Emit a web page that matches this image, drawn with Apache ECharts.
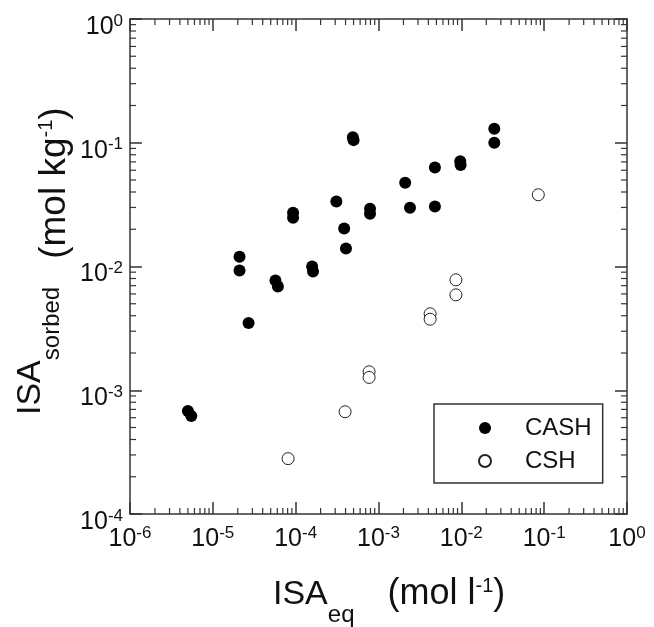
<!DOCTYPE html>
<html>
<head>
<meta charset="utf-8">
<script src="https://cdn.jsdelivr.net/npm/echarts@6/dist/echarts.min.js"></script>
<style>
html,body{margin:0;padding:0;background:#ffffff;}
#c{width:654px;height:627px;}
</style>
</head>
<body>
<div id="c"></div>
<script>
// ---- data ----
const seriesNames = ['CASH', 'CSH'];
const cashX = [5.0e-6, 5.5e-6, 2.1e-5, 2.1e-5, 2.7e-5, 5.7e-5, 6.1e-5, 9.3e-5, 9.3e-5, 1.58e-4, 1.62e-4,
               3.1e-4, 3.85e-4, 4.05e-4, 4.9e-4, 5.0e-4, 7.9e-4, 7.9e-4, 2.1e-3, 2.4e-3, 4.8e-3, 4.8e-3,
               9.7e-3, 9.8e-3, 2.5e-2, 2.5e-2];
const cashY = [6.8e-4, 6.2e-4, 0.0120, 0.0093, 0.0035, 0.0077, 0.0069, 0.0272, 0.0248, 0.0100, 0.0091,
               0.0335, 0.0203, 0.0140, 0.111, 0.105, 0.0293, 0.0267, 0.0475, 0.0298, 0.063, 0.0305,
               0.071, 0.066, 0.130, 0.100];
const cshX = [8.1e-5, 3.95e-4, 7.7e-4, 7.7e-4, 4.2e-3, 4.2e-3, 8.6e-3, 8.6e-3, 8.5e-2];
const cshY = [2.8e-4, 6.7e-4, 1.41e-3, 1.27e-3, 4.15e-3, 3.75e-3, 7.8e-3, 5.9e-3, 0.038];

// tick labels (exponents of 10)
const xTickExp = ['-6', '-5', '-4', '-3', '-2', '-1', '0'];
const yTickExp = ['-4', '-3', '-2', '-1', '0'];
const minorMult = [2, 3, 4, 5, 6, 7, 8, 9];

// ---- styling ----
const FONT = '"Liberation Sans", Arial, Helvetica, sans-serif';
const INK = '#111';
const FRAME = '#333';
const X_MIN = 1e-6, X_MAX = 1, Y_MIN = 1e-4, Y_MAX = 1;

const tickRich = {
  b: { fontSize: 25, fontFamily: FONT, color: INK, verticalAlign: 'top', height: 30 },
  s: { fontSize: 17, fontFamily: FONT, color: INK, verticalAlign: 'top', height: 18 }
};
function xFmt(v) {
  const i = Math.round(Math.log10(v)) + 6;
  return '{b|10}{s|' + xTickExp[i] + '}';
}
function yFmt(v) {
  const i = Math.round(Math.log10(v)) + 4;
  return '{b|10}{s|' + yTickExp[i] + '}';
}

const lineStyle = { color: FRAME, width: 1.5 };
function mkX(pos, labels) {
  return {
    type: 'log', logBase: 10, min: X_MIN, max: X_MAX, position: pos,
    axisLine: { show: true, lineStyle: lineStyle },
    axisTick: { show: true, inside: true, length: 12, lineStyle: lineStyle },
    axisLabel: labels ? { show: true, formatter: xFmt, rich: tickRich, margin: 10 } : { show: false },
    splitLine: { show: false }, minorTick: { show: false }
  };
}
function mkY(pos, labels) {
  return {
    type: 'log', logBase: 10, min: Y_MIN, max: Y_MAX, position: pos,
    axisLine: { show: true, lineStyle: lineStyle },
    axisTick: { show: true, inside: true, length: 12, lineStyle: lineStyle },
    axisLabel: labels ? { show: true, formatter: yFmt, rich: tickRich, margin: 7, padding: [16, 0, 0, 0] } : { show: false },
    splitLine: { show: false }, minorTick: { show: false }
  };
}

// minor tick values (2..9 x 10^k) for log axes
const minorData = [];
for (let e = -6; e < 0; e++) for (const m of minorMult) minorData.push([m * Math.pow(10, e), 1e-2, 0]);
for (let e = -4; e < 0; e++) for (const m of minorMult) minorData.push([1e-3, m * Math.pow(10, e), 1]);

const chart = echarts.init(document.getElementById('c'), null, { renderer: 'canvas' });

const option = {
  backgroundColor: '#ffffff',
  animation: false,
  grid: { left: 130, top: 19, right: 27, bottom: 113, containLabel: false },
  xAxis: [mkX('bottom', true), mkX('top', false)],
  yAxis: [mkY('left', true), mkY('right', false)],
  legend: {
    data: [{ name: seriesNames[0], icon: 'circle' }, { name: seriesNames[1], icon: 'circle' }],
    orient: 'vertical', left: 434, top: 404,
    padding: [12, 11, 10, 44], itemGap: 9, itemWidth: 12, itemHeight: 12,
    borderColor: '#333', borderWidth: 1.5, backgroundColor: '#fff',
    selectedMode: false,
    textStyle: { fontSize: 24, fontFamily: FONT, color: INK, padding: [0, 0, 0, 29], lineHeight: 24 }
  },
  graphic: [
    {
      type: 'text', x: 273, y: 570, silent: true,
      style: {
        text: '{a|ISA}{b|eq}{c|(mol l}{d|-1}{e|)}',
        align: 'left', verticalAlign: 'top', textAlign: 'left', textVerticalAlign: 'top',
        rich: {
          a: { fontSize: 34, fontFamily: FONT, fill: INK, color: INK, verticalAlign: 'top', height: 50 },
          b: { fontSize: 24, fontFamily: FONT, fill: INK, color: INK, verticalAlign: 'top', height: 91 },
          c: { fontSize: 36, fontFamily: FONT, fill: INK, color: INK, verticalAlign: 'top', height: 48, padding: [0, 0, 0, 33] },
          d: { fontSize: 20, fontFamily: FONT, fill: INK, color: INK, verticalAlign: 'top', height: 32 },
          e: { fontSize: 36, fontFamily: FONT, fill: INK, color: INK, verticalAlign: 'top', height: 48 }
        }
      }
    },
    {
      type: 'text', x: 10, y: 415, rotation: Math.PI / 2, silent: true,
      style: {
        text: '{a|ISA}{b|sorbed}{c|(mol kg}{d|-1}{e|)}',
        align: 'left', verticalAlign: 'top', textAlign: 'left', textVerticalAlign: 'top',
        rich: {
          a: { fontSize: 34, fontFamily: FONT, fill: INK, color: INK, verticalAlign: 'top', height: 42 },
          b: { fontSize: 24, fontFamily: FONT, fill: INK, color: INK, verticalAlign: 'top', height: 84 },
          c: { fontSize: 37, fontFamily: FONT, fill: INK, color: INK, verticalAlign: 'top', height: 90, padding: [0, 0, 0, 28] },
          d: { fontSize: 20, fontFamily: FONT, fill: INK, color: INK, verticalAlign: 'top', height: 72 },
          e: { fontSize: 37, fontFamily: FONT, fill: INK, color: INK, verticalAlign: 'top', height: 90 }
        }
      }
    }
  ],
  series: [
    {
      type: 'custom', name: 'minorTicks', silent: true, clip: false, z: 3,
      xAxisIndex: 0, yAxisIndex: 0,
      data: minorData,
      encode: { x: 0, y: 1 },
      renderItem: function (params, api) {
        const cs = params.coordSys;
        const kind = api.value(2);
        const st = { stroke: FRAME, lineWidth: 1.2 };
        if (kind === 0) {
          const x = api.coord([api.value(0), 1e-2])[0];
          return { type: 'group', children: [
            { type: 'line', shape: { x1: x, y1: cs.y + cs.height, x2: x, y2: cs.y + cs.height - 6 }, style: st },
            { type: 'line', shape: { x1: x, y1: cs.y, x2: x, y2: cs.y + 6 }, style: st }
          ] };
        } else {
          const y = api.coord([1e-3, api.value(1)])[1];
          return { type: 'group', children: [
            { type: 'line', shape: { x1: cs.x, y1: y, x2: cs.x + 6, y2: y }, style: st },
            { type: 'line', shape: { x1: cs.x + cs.width, y1: y, x2: cs.x + cs.width - 6, y2: y }, style: st }
          ] };
        }
      }
    },
    {
      type: 'scatter', name: seriesNames[0], xAxisIndex: 0, yAxisIndex: 0,
      data: cashX.map((x, i) => [x, cashY[i]]),
      symbol: 'circle', symbolSize: 12,
      itemStyle: { color: '#000', borderColor: '#000', borderWidth: 0, opacity: 1 }, z: 5
    },
    {
      type: 'scatter', name: seriesNames[1], xAxisIndex: 0, yAxisIndex: 0,
      data: cshX.map((x, i) => [x, cshY[i]]),
      symbol: 'circle', symbolSize: 12,
      itemStyle: { color: '#fff', borderColor: '#222', borderWidth: 1, opacity: 1 }, z: 5
    }
  ]
};
chart.setOption(option);
</script>
</body>
</html>
